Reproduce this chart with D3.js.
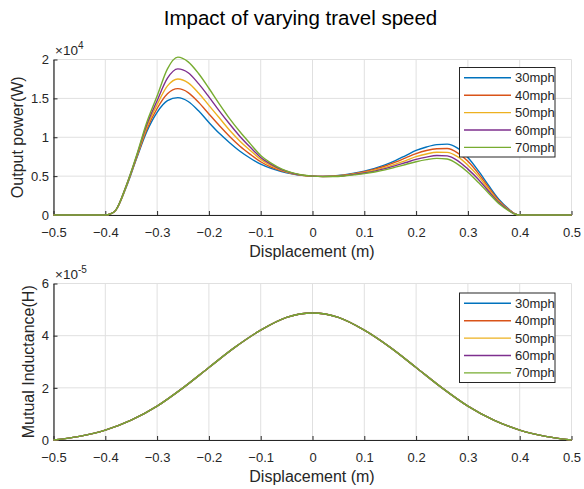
<!DOCTYPE html>
<html>
<head>
<meta charset="utf-8">
<script src="https://cdn.jsdelivr.net/npm/d3@7"></script>
<style>
  html, body { margin: 0; padding: 0; background: #fff; }
  svg { display: block; font-family: "Liberation Sans", Arial, sans-serif; }
</style>
</head>
<body>
<svg id="chart" width="584" height="489"></svg>
<script>
// ---- data -------------------------------------------------------------
const speedLabels = ["30mph", "40mph", "50mph", "60mph", "70mph"];
const seriesColors = ["#0072BD", "#D95319", "#EDB120", "#7E2F8E", "#77AC30"];

// displacement samples for the output power curves (m)
const powerX = [-0.5, -0.45, -0.40, -0.39, -0.38, -0.36, -0.34, -0.32, -0.30, -0.28, -0.26,
  -0.24, -0.22, -0.20, -0.18, -0.16, -0.14, -0.12, -0.10, -0.08, -0.06, -0.04, -0.02,
  0, 0.02, 0.04, 0.06, 0.08, 0.10, 0.12, 0.14, 0.16, 0.18, 0.20, 0.22, 0.24, 0.26,
  0.28, 0.30, 0.32, 0.34, 0.36, 0.38, 0.39, 0.40, 0.45, 0.5];

// output power, in units of 10^4 W
const power30 = [0, 0, 0, 0.015, 0.06, 0.35, 0.72, 1.07, 1.32, 1.47, 1.51,
  1.46, 1.34, 1.19, 1.05, 0.93, 0.82, 0.73, 0.655, 0.60, 0.56, 0.53, 0.51,
  0.50, 0.497, 0.502, 0.515, 0.537, 0.565, 0.60, 0.645, 0.70, 0.765, 0.83, 0.875, 0.905, 0.912,
  0.86, 0.74, 0.57, 0.38, 0.20, 0.07, 0.018, 0, 0, 0];
const power40 = [0, 0, 0, 0.015, 0.06, 0.36, 0.73, 1.10, 1.37, 1.56, 1.625,
  1.575, 1.45, 1.30, 1.15, 1.01, 0.885, 0.78, 0.685, 0.615, 0.567, 0.533, 0.51,
  0.50, 0.497, 0.50, 0.512, 0.532, 0.556, 0.59, 0.63, 0.68, 0.735, 0.79, 0.83, 0.852, 0.855,
  0.80, 0.69, 0.535, 0.355, 0.185, 0.065, 0.017, 0, 0, 0];
const power50 = [0, 0, 0, 0.015, 0.06, 0.36, 0.74, 1.13, 1.42, 1.66, 1.75,
  1.70, 1.57, 1.41, 1.25, 1.09, 0.95, 0.83, 0.715, 0.635, 0.577, 0.537, 0.512,
  0.50, 0.496, 0.498, 0.508, 0.527, 0.548, 0.577, 0.613, 0.655, 0.70, 0.75, 0.785, 0.807, 0.805,
  0.75, 0.64, 0.50, 0.33, 0.17, 0.06, 0.016, 0, 0, 0];
const power60 = [0, 0, 0, 0.015, 0.06, 0.37, 0.75, 1.16, 1.47, 1.76, 1.88,
  1.83, 1.69, 1.52, 1.34, 1.17, 1.01, 0.87, 0.74, 0.652, 0.585, 0.54, 0.513,
  0.50, 0.495, 0.497, 0.505, 0.522, 0.54, 0.565, 0.597, 0.635, 0.675, 0.715, 0.745, 0.765, 0.76,
  0.70, 0.59, 0.46, 0.305, 0.16, 0.055, 0.015, 0, 0, 0];
const power70 = [0, 0, 0, 0.015, 0.06, 0.37, 0.76, 1.19, 1.53, 1.88, 2.03,
  1.97, 1.82, 1.63, 1.43, 1.24, 1.07, 0.915, 0.765, 0.668, 0.594, 0.544, 0.514,
  0.50, 0.494, 0.495, 0.502, 0.516, 0.532, 0.553, 0.58, 0.615, 0.65, 0.685, 0.712, 0.728, 0.72,
  0.655, 0.55, 0.42, 0.28, 0.145, 0.05, 0.013, 0, 0, 0];
const powerSeries = [power30, power40, power50, power60, power70];

// mutual inductance vs displacement, in units of 10^-5 H (same for every speed)
const inductX = [-0.5, -0.45, -0.4, -0.35, -0.3, -0.25, -0.2, -0.15, -0.1, -0.05, 0,
  0.05, 0.1, 0.15, 0.2, 0.25, 0.3, 0.35, 0.4, 0.45, 0.5];
const inductance = [0, 0.14, 0.38, 0.76, 1.30, 2.00, 2.78, 3.55, 4.21, 4.70, 4.87,
  4.70, 4.21, 3.55, 2.78, 2.00, 1.30, 0.76, 0.38, 0.14, 0];
const inductSeries = [inductance, inductance, inductance, inductance, inductance];

// tick values and labels
const xTicks = [-0.5, -0.4, -0.3, -0.2, -0.1, 0, 0.1, 0.2, 0.3, 0.4, 0.5];
const xTickLabels = ["\u22120.5", "\u22120.4", "\u22120.3", "\u22120.2", "\u22120.1", "0", "0.1", "0.2", "0.3", "0.4", "0.5"];
const powerTicks = [0, 0.5, 1, 1.5, 2];
const powerTickLabels = ["0", "0.5", "1", "1.5", "2"];
const inductTicks = [0, 2, 4, 6];
const inductTickLabels = ["0", "2", "4", "6"];

// ---- drawing ----------------------------------------------------------
const svg = d3.select("#chart");
const ink = "#262626";
const gridColor = "#e0e0e0";

const x = d3.scaleLinear().domain([-0.5, 0.5]).range([53.5, 571.5]);

svg.append("text")
  .attr("x", 300.5).attr("y", 24.5)
  .attr("text-anchor", "middle")
  .attr("font-size", 20.5).attr("fill", "#000")
  .text("Impact of varying travel speed");

function panel(opts) {
  const y = d3.scaleLinear().domain(opts.yDomain).range([opts.bottom, opts.top]);
  const g = svg.append("g");

  // grid
  g.append("g").selectAll("line").data(xTicks).join("line")
    .attr("x1", d => x(d)).attr("x2", d => x(d))
    .attr("y1", opts.top).attr("y2", opts.bottom)
    .attr("stroke", gridColor).attr("stroke-width", 1);
  g.append("g").selectAll("line").data(opts.yTicks).join("line")
    .attr("x1", x.range()[0]).attr("x2", x.range()[1])
    .attr("y1", d => y(d)).attr("y2", d => y(d))
    .attr("stroke", gridColor).attr("stroke-width", 1);

  // axes (ticks point inward)
  const xAxis = d3.axisBottom(x).tickValues(xTicks)
    .tickFormat((d, i) => xTickLabels[i])
    .tickSizeInner(-4).tickSizeOuter(0).tickPadding(12.3);
  const gx = g.append("g").attr("transform", `translate(0,${opts.bottom})`).call(xAxis);
  const yAxis = d3.axisLeft(y).tickValues(opts.yTicks)
    .tickFormat((d, i) => opts.yTickLabels[i])
    .tickSizeInner(-4).tickSizeOuter(0).tickPadding(4.5);
  const gy = g.append("g").attr("transform", `translate(${x.range()[0]},0)`).call(yAxis);
  [gx, gy].forEach(a => {
    a.attr("font-family", null).attr("font-size", 13);
    a.select(".domain").attr("stroke", ink).attr("stroke-width", 1.2);
    a.selectAll(".tick line").attr("stroke", ink).attr("stroke-width", 1);
    a.selectAll(".tick text").attr("fill", ink);
  });

  // exponent marker
  const ex = g.append("text").attr("x", 55).attr("y", opts.top - 5)
    .attr("font-size", 13.5).attr("fill", ink);
  ex.append("tspan").text("\u00d710");
  ex.append("tspan").attr("font-size", 10).attr("dy", -5.5).text(opts.exponent);

  // axis labels
  g.append("text")
    .attr("x", 312).attr("y", opts.bottom + 42)
    .attr("text-anchor", "middle").attr("font-size", 16).attr("fill", ink)
    .text("Displacement (m)");
  g.append("text")
    .attr("transform", `translate(${opts.yLabelX},${(opts.top + opts.bottom) / 2}) rotate(-90)`)
    .attr("text-anchor", "middle").attr("font-size", 16).attr("fill", ink)
    .text(opts.yLabel);

  // series
  const line = d3.line()
    .x((d, i) => x(opts.xs[i]))
    .y(d => y(d))
    .curve(d3.curveMonotoneX);
  g.append("g").selectAll("path").data(opts.series).join("path")
    .attr("d", d => line(d))
    .attr("fill", "none")
    .attr("stroke", (d, i) => seriesColors[i])
    .attr("stroke-width", 1.4)
    .attr("stroke-linejoin", "round");

  // legend
  const lg = g.append("g");
  lg.append("rect")
    .attr("x", 459.5).attr("y", opts.legendTop)
    .attr("width", 95.5).attr("height", 89.5)
    .attr("fill", "#fff").attr("stroke", ink).attr("stroke-width", 1);
  const items = lg.selectAll("g.item").data(speedLabels).join("g")
    .attr("transform", (d, i) => `translate(0,${opts.legendTop + 10.3 + i * 17.4})`);
  items.append("line")
    .attr("x1", 464).attr("x2", 511)
    .attr("stroke", (d, i) => seriesColors[i]).attr("stroke-width", 1.4);
  items.append("text")
    .attr("x", 515).attr("dy", "0.35em")
    .attr("font-size", 13).attr("fill", ink)
    .text(d => d);
}

panel({
  top: 59.5, bottom: 215, yDomain: [0, 2],
  yTicks: powerTicks, yTickLabels: powerTickLabels, exponent: "4",
  yLabel: "Output power(W)", yLabelX: 22.5,
  xs: powerX, series: powerSeries, legendTop: 67.5
});

panel({
  top: 283.5, bottom: 440, yDomain: [0, 6],
  yTicks: inductTicks, yTickLabels: inductTickLabels, exponent: "-5",
  yLabel: "Mutual Inductance(H)", yLabelX: 33.8,
  xs: inductX, series: inductSeries, legendTop: 293
});
</script>
</body>
</html>
